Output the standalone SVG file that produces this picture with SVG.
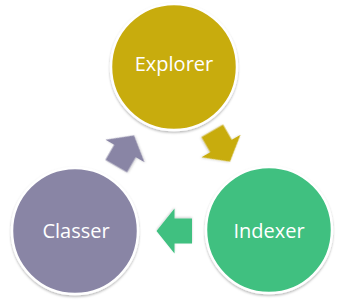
<svg xmlns="http://www.w3.org/2000/svg" width="350" height="300" viewBox="0 0 350 300">
  <defs>
    <filter id="sh" x="-20%" y="-20%" width="140%" height="140%">
      <feDropShadow dx="0" dy="1.5" stdDeviation="1.2" flood-color="#000" flood-opacity="0.28"/>
    </filter>
    <filter id="ash" x="-30%" y="-30%" width="160%" height="160%">
      <feDropShadow dx="0" dy="1" stdDeviation="0.8" flood-color="#000" flood-opacity="0.2"/>
    </filter>
    <polygon id="arrow" points="-17.5,-12.5 0,-12.5 0,-22.5 18,0 0,22.5 0,12.5 -17.5,12.5"/>
  </defs>
  <style>
    .node { stroke: #ffffff; stroke-width: 2.5; filter: url(#sh); }
    .lbl { font-family: "Open Sans", "Liberation Sans", sans-serif; font-size: 20px; fill: #ffffff; text-anchor: middle; }
    .arr { filter: url(#ash); }
  </style>
  <rect width="350" height="300" fill="#ffffff"/>
  <g id="connectors">
    <use href="#arrow" class="arr" fill="#C8AC10" transform="translate(221,146) rotate(60)"/>
    <use href="#arrow" class="arr" fill="#3FC080" transform="translate(174.5,231) rotate(180)"/>
    <use href="#arrow" class="arr" fill="#8985A5" transform="translate(125,151) rotate(-60)"/>
  </g>
  <g id="explorer">
    <circle class="node" cx="174" cy="67" r="63" fill="#C8AC10"/>
    <text class="lbl" x="174" y="71">Explorer</text>
  </g>
  <g id="indexer">
    <circle class="node" cx="269" cy="230" r="63" fill="#3FC080"/>
    <text class="lbl" x="269" y="238">Indexer</text>
  </g>
  <g id="classer">
    <circle class="node" cx="75" cy="231" r="63" fill="#8985A5"/>
    <text class="lbl" x="76" y="238">Classer</text>
  </g>
</svg>
